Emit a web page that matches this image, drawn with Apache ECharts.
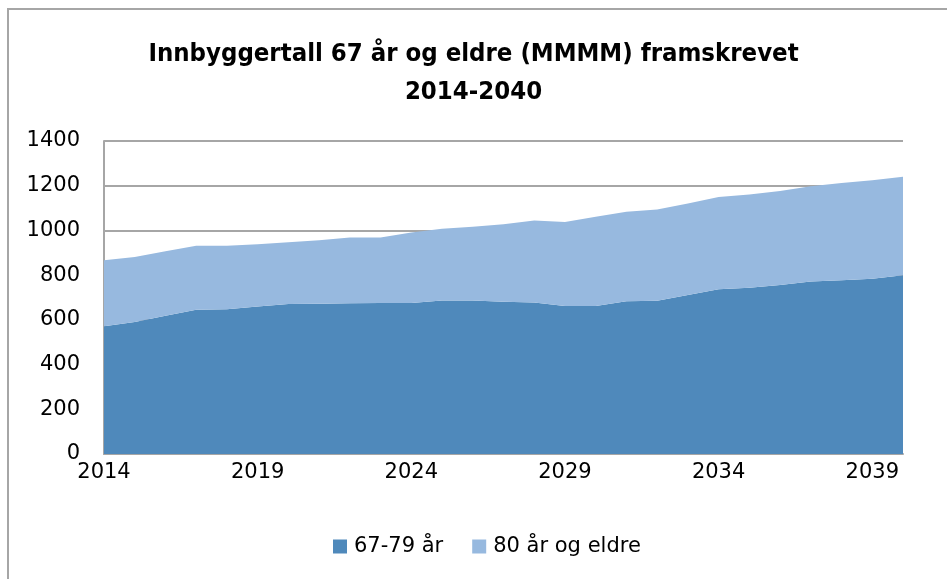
<!DOCTYPE html>
<html>
<head>
<meta charset="utf-8">
<script src="https://cdn.jsdelivr.net/npm/echarts@6/dist/echarts.min.js"></script>
<style>
  html, body { margin: 0; padding: 0; background: #fff; }
  #chart { width: 947px; height: 579px; }
</style>
</head>
<body>
<div id="chart"></div>
<script>
  var years = ['2014', '2015', '2016', '2017', '2018', '2019', '2020', '2021', '2022',
    '2023', '2024', '2025', '2026', '2027', '2028', '2029', '2030', '2031', '2032',
    '2033', '2034', '2035', '2036', '2037', '2038', '2039', '2040']
  // 67-79 år
  var young = [571, 590, 618, 645, 648, 660, 671, 672, 674, 675, 675, 687, 687, 681,
    678, 662, 662, 683, 686, 711, 737, 744, 756, 772, 777, 784, 799]
  // 80 år og eldre
  var old = [296, 291, 289, 286, 284, 278, 276, 284, 294, 293, 316, 320, 329, 347,
    366, 376, 399, 400, 408, 410, 412, 417, 420, 426, 435, 441, 441]
  var seriesNames = ['67-79 år', '80 år og eldre']
  var colors = ['#4f89bb', '#97b9df']
  var textFont = 'DejaVu Sans'

  var chart = echarts.init(document.getElementById('chart'))
  var option = {
    animation: false,
    color: colors,
    title: {
      text: 'Innbyggertall 67 år og eldre (MMMM) framskrevet\n2014-2040',
      left: 'center',
      top: 30,
      textStyle: {
        fontFamily: 'DejaVu Sans Condensed',
        fontWeight: 'bold',
        fontSize: 25.5,
        lineHeight: 38,
        color: '#000'
      }
    },
    graphic: [{
      type: 'rect',
      shape: { x: 8, y: 9, width: 1200, height: 1000 },
      style: { fill: 'none', stroke: '#a6a6a6', lineWidth: 2 },
      silent: true
    }],
    legend: {
      data: seriesNames,
      bottom: 17,
      left: 328,
      icon: 'rect',
      itemWidth: 14,
      itemHeight: 14,
      itemGap: 29,
      textStyle: { fontFamily: textFont, fontSize: 21, color: '#000', padding: [0, 0, 0, 2] }
    },
    grid: { left: 104, right: 44, top: 141, bottom: 125 },
    xAxis: {
      type: 'category',
      boundaryGap: false,
      data: years,
      axisLine: { lineStyle: { color: '#a6a6a6', width: 2 } },
      axisTick: { show: false },
      axisLabel: {
        interval: 4,
        margin: 8,
        fontFamily: textFont,
        fontSize: 21,
        color: '#000'
      }
    },
    yAxis: {
      type: 'value',
      min: 0,
      max: 1400,
      interval: 200,
      axisLine: { show: true, lineStyle: { color: '#a6a6a6', width: 2 } },
      axisTick: { show: false },
      splitLine: { lineStyle: { color: '#a6a6a6', width: 2 } },
      axisLabel: {
        margin: 24,
        fontFamily: textFont,
        fontSize: 21,
        color: '#000',
        formatter: function (v) { return String(v) }
      }
    },
    series: [
      {
        name: seriesNames[0],
        type: 'line',
        stack: 'total',
        data: young,
        symbol: 'none',
        lineStyle: { width: 0 },
        areaStyle: { opacity: 1 }
      },
      {
        name: seriesNames[1],
        type: 'line',
        stack: 'total',
        data: old,
        symbol: 'none',
        lineStyle: { width: 0 },
        areaStyle: { opacity: 1 }
      }
    ]
  }
  chart.setOption(option)
</script>
</body>
</html>
